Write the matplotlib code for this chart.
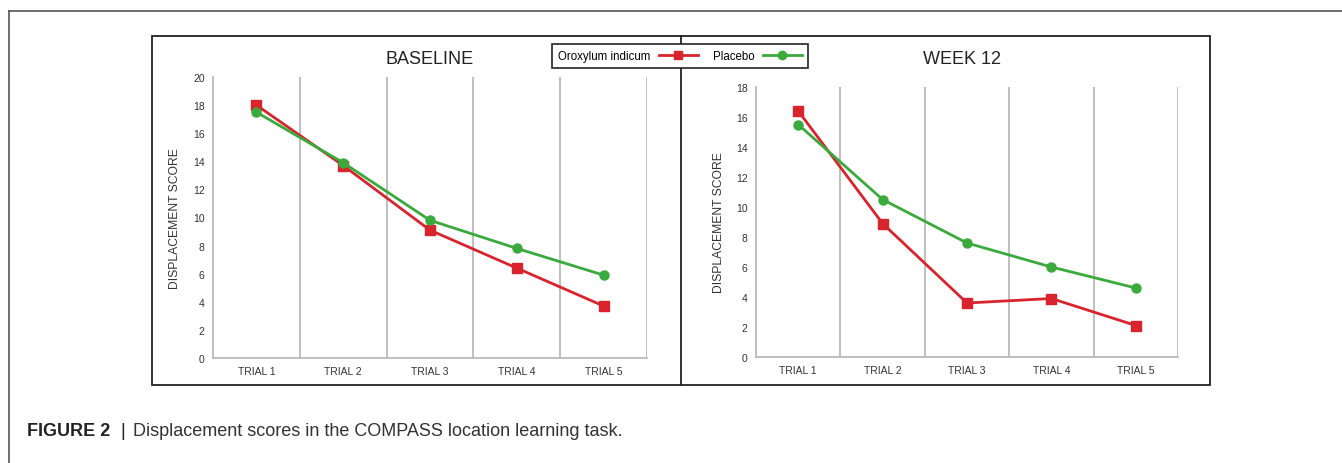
import matplotlib.pyplot as plt
from matplotlib.lines import Line2D
from matplotlib.patches import Rectangle

trials = ["TRIAL 1", "TRIAL 2", "TRIAL 3", "TRIAL 4", "TRIAL 5"]
base_oroxylum = [18.0, 13.7, 9.1, 6.4, 3.7]
base_placebo = [17.5, 13.9, 9.8, 7.8, 5.9]
wk12_oroxylum = [16.4, 8.9, 3.6, 3.9, 2.1]
wk12_placebo = [15.5, 10.5, 7.6, 6.0, 4.6]

RED = "#d9232d"
GREEN = "#3aaa3c"
GRID = "#b4b4b4"
FONT = ["Liberation Sans", "DejaVu Sans"]

W, H = 1342, 464
fig = plt.figure(figsize=(W / 100, H / 100), dpi=100)


def px_axes(x0, x1, y_top, y_bot):
    return fig.add_axes([x0 / W, 1 - y_bot / H, (x1 - x0) / W, (y_bot - y_top) / H])


def panel(ax, title, oro, pla, ymax, tx, y_label_x):
    x = range(1, len(trials) + 1)
    for b in [1.5, 2.5, 3.5, 4.5, 5.5]:
        ax.axvline(b, color=GRID, lw=1.2, zorder=0)
    ax.plot(x, oro, color=RED, lw=2.0, marker="s", ms=6.5, zorder=3)
    ax.plot(x, pla, color=GREEN, lw=2.0, marker="o", ms=6.5, zorder=3)
    ax.set_xlim(0.5, 5.5)
    ax.set_ylim(0, ymax)
    ax.set_yticks(range(0, ymax + 1, 2))
    ax.set_xticks(list(x))
    ax.set_xticklabels(trials)
    for s in ["top", "right"]:
        ax.spines[s].set_visible(False)
    for s in ["left", "bottom"]:
        ax.spines[s].set_color(GRID)
        ax.spines[s].set_linewidth(1.2)
    ax.tick_params(length=0, labelsize=7.5, colors="#333333", pad=6)
    for lab in ax.get_xticklabels() + ax.get_yticklabels():
        lab.set_family(FONT)
    ax.set_ylabel("DISPLACEMENT SCORE", family=FONT, fontsize=8.7, color="#333333")
    ax.yaxis.set_label_coords(y_label_x, 0.5)
    fig.text(tx / W, 1 - 59 / H, title, family=FONT, fontsize=13, color="#222222",
             ha="center", va="center")


ax1 = px_axes(213, 647, 78, 359)
panel(ax1, "BASELINE", base_oroxylum, base_placebo, 20, 430, -0.073)
ax2 = px_axes(756, 1178, 88, 358)
panel(ax2, "WEEK 12", wk12_oroxylum, wk12_placebo, 18, 962, -0.074)

# frames
fig.add_artist(Line2D([9 / W, 9 / W], [0, 1 - 12 / H], color="#555555", lw=1.2))
fig.add_artist(Line2D([9 / W, 1], [1 - 12 / H, 1 - 12 / H], color="#555555", lw=1.2))
fig.add_artist(Rectangle((152 / W, 1 - 386 / H), (1210 - 152) / W, (386 - 37) / H,
                         fill=False, ec="#222222", lw=1.3))
fig.add_artist(Line2D([681 / W, 681 / W], [1 - 386 / H, 1 - 37 / H], color="#222222", lw=1.3))

handles = [Line2D([], [], color=RED, lw=2.0, marker="s", ms=6),
           Line2D([], [], color=GREEN, lw=2.0, marker="o", ms=6)]
leg = fig.legend(handles, ["Oroxylum indicum", "Placebo"], ncol=2, markerfirst=False,
                 loc="center", bbox_to_anchor=(680 / W, 1 - 57 / H),
                 prop={"family": FONT, "size": 8.3}, frameon=True, fancybox=False,
                 edgecolor="#222222", framealpha=1.0, handlelength=3.4,
                 columnspacing=1.3, borderpad=0.5, handletextpad=0.7)
leg.get_frame().set_linewidth(1.2)
leg.set_zorder(10)

fig.text(27 / W, 1 - 432 / H, "FIGURE 2", family=FONT, fontsize=13,
         fontweight="bold", color="#222222", va="center")
fig.text(120 / W, 1 - 432 / H, "|", family=FONT, fontsize=13,
         color="#222222", va="center")
fig.text(133 / W, 1 - 432 / H, "Displacement scores in the COMPASS location learning task.",
         family=FONT, fontsize=13, color="#333333", va="center")

fig.savefig("out.png", dpi=100)
